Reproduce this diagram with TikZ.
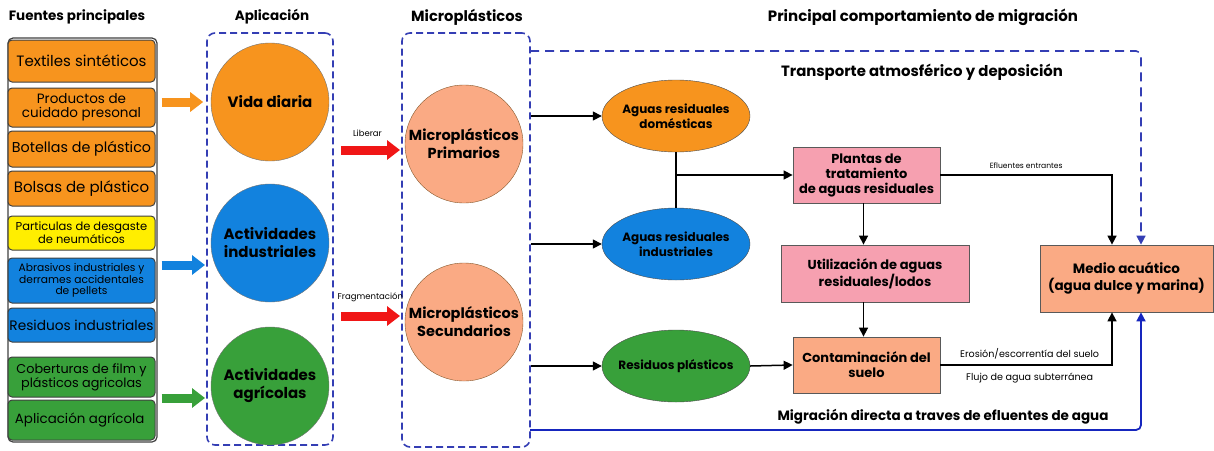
\documentclass[tikz,border=0pt]{standalone}
\usepackage{fontspec}
\setmainfont{Poppins}
\usetikzlibrary{arrows.meta,shapes.geometric}
\definecolor{srcorange}{RGB}{247,148,30}
\definecolor{srcyellow}{RGB}{255,238,0}
\definecolor{srcblue}{RGB}{18,130,222}
\definecolor{srcgreen}{RGB}{56,160,58}
\definecolor{salmon}{RGB}{250,170,132}
\definecolor{pinkbox}{RGB}{246,160,176}
\definecolor{dashblue}{RGB}{52,62,180}
\definecolor{lineblue}{RGB}{22,38,190}
\definecolor{redarrow}{RGB}{240,22,22}
\tikzset{
  srcbox/.style={draw=black!75, line width=1pt, rounded corners=4pt, minimum width=147pt, align=center, inner sep=1pt},
  appcircle/.style={circle, draw=black!55, minimum size=118pt, inner sep=0pt, align=center, font=\fontsize{15}{18}\selectfont\bfseries},
  micircle/.style={circle, draw=brown!70!black, fill=salmon, minimum size=118pt, inner sep=0pt, align=center, font=\fontsize{14.5}{18}\selectfont\bfseries},
  groupbox/.style={draw=dashblue, line width=1.6pt, dash pattern=on 7pt off 4pt, rounded corners=8pt},
  waterell/.style={ellipse, draw=black!70, minimum width=148pt, minimum height=72pt, inner xsep=-10pt, inner ysep=0pt, align=center, font=\fontsize{12}{15}\selectfont\bfseries},
  fatebox/.style={draw=black!65, line width=0.8pt, align=center, inner sep=2pt, font=\fontsize{13}{15}\selectfont\bfseries},
  coltitle/.style={font=\fontsize{13.5}{16}\selectfont\bfseries},
  flow/.style={->, line width=1.5pt},
  blockarrow/.style={line width=9pt, -{Triangle[width=19pt,length=13pt]}},
  smalllabel/.style={font=\fontsize{8.5}{10}\selectfont},
}
\begin{document}
\begin{tikzpicture}[x=1pt, y=-1pt, >={Triangle[width=9pt,length=9pt]}]
\useasboundingbox (0,0) rectangle (1214,450);
% column titles
\node[coltitle] (t1) at (77,17) {Fuentes principales};
\node[coltitle] (t2) at (272,17) {Aplicación};
\node[coltitle, font=\fontsize{14.7}{17}\selectfont\bfseries] (t3) at (467,17) {Microplásticos};
\node[coltitle, font=\fontsize{15}{17}\selectfont\bfseries] (t4) at (923,17) {Principal comportamiento de migración};
% main sources
\node[draw=black!75, line width=1.2pt, rounded corners=5pt, minimum width=149pt, minimum height=404pt] (fuentes) at (82.5,240) {};
\foreach \n/\y/\h/\c/\s/\t in {
    textil/61/42/srcorange/15/{Textiles sintéticos},
    cuidado/107.5/39/srcorange/13.5/{Productos de\\cuidado presonal},
    botellas/149/36/srcorange/14.3/{Botellas de plástico},
    bolsas/188.5/35/srcorange/15/{Bolsas de plástico},
    neumat/233/34/srcyellow/11.5/{Particulas de desgaste\\de neumáticos},
    abras/280.5/45/srcblue/10.7/{Abrasivos industriales y\\derrames accidentales\\de pellets},
    resind/325/34/srcblue/13.7/{Residuos industriales},
    cobert/377/40/srcgreen/12.8/{Coberturas de film y\\plásticos agricolas},
    aplag/420/40/srcgreen/13.4/{Aplicación agrícola}
  } {
    \node[srcbox, fill=\c, minimum height=\h pt, font=\fontsize{\s}{\s}\selectfont] (\n) at (81.5,\y) {\t};
  }
% application
\node[groupbox, minimum width=126pt, minimum height=412pt] (apbox) at (270,239) {};
\node[appcircle, fill=srcorange] (vida) at (270,102) {Vida diaria};
\node[appcircle, fill=srcblue] (indus) at (270,243) {Actividades\\industriales};
\node[appcircle, fill=srcgreen] (agric) at (270,386) {Actividades\\agrícolas};
\coordinate (bluein) at (205,265);
\coordinate (greenin) at (205,398);
\draw[blockarrow, srcorange] ([xshift=4pt]fuentes.east |- vida) -- ([xshift=-3pt]apbox.west |- vida);
\draw[blockarrow, srcblue] ([xshift=4pt]fuentes.east |- bluein) -- (bluein);
\draw[blockarrow, srcgreen] ([xshift=4pt]fuentes.east |- greenin) -- (greenin);
% microplastics
\node[groupbox, minimum width=128pt, minimum height=414pt] (micbox) at (466,240) {};
\node[micircle] (prim) at (464,144) {Microplásticos\\Primarios};
\node[micircle] (secu) at (464,322) {Microplásticos\\Secundarios};
\coordinate (libin) at (400,150);
\coordinate (fragin) at (400,316);
\draw[blockarrow, redarrow] ([xshift=7pt]apbox.east |- libin) -- (libin) node[pos=0.45, above=6pt, smalllabel, text=black] (liberar) {Liberar};
\draw[blockarrow, redarrow] ([xshift=7pt]apbox.east |- fragin) -- (fragin) node[pos=0.5, above=6pt, smalllabel, text=black] (frag) {Fragmentación};
% pathways
\node[waterell, fill=srcorange] (dom) at (676,116) {Aguas residuales\\domésticas};
\node[waterell, fill=srcblue] (ind) at (676,244) {Aguas residuales\\industriales};
\node[waterell, fill=srcgreen] (resp) at (676,366) {Residuos plásticos};
\node[fatebox, fill=pinkbox, minimum width=147pt, minimum height=56pt] (plantas) at (866.5,175) {Plantas de\\tratamiento\\de aguas residuales};
\node[fatebox, fill=pinkbox, minimum width=188pt, minimum height=57pt] (util) at (875,273.5) {Utilización de aguas\\residuales/lodos};
\node[fatebox, fill=salmon, minimum width=147pt, minimum height=56pt] (contam) at (866.5,365) {Contaminación del\\suelo};
\node[fatebox, fill=salmon, minimum width=173pt, minimum height=67pt, font=\fontsize{13.5}{17}\selectfont\bfseries] (medio) at (1126.5,278.5) {Medio acuático\\(agua dulce y marina)};
\draw[flow] (micbox.east |- dom) -- (dom.west);
\draw[flow] (micbox.east |- ind) -- (ind.west);
\draw[flow] (micbox.east |- resp) -- (resp.west);
\draw[line width=1.5pt] (dom.south) -- (ind.north);
\draw[flow] (dom.south |- plantas.west) -- (plantas.west);
\draw[flow] (resp.east) -- (contam.west);
\draw[flow] ([xshift=-3pt]plantas.south) -- ([xshift=-3pt]plantas.south |- util.north);
\draw[flow] ([xshift=-3pt]contam.north |- util.south) -- ([xshift=-3pt]contam.north);
\draw[flow] (plantas.east) -| ([xshift=-14.5pt]medio.north) node[pos=0.25, above=2pt, smalllabel, font=\fontsize{7.6}{9}\selectfont] (eflu) {Efluentes entrantes};
\draw[flow] (contam.east) -| ([xshift=-14.5pt]medio.south)
  node[pos=0.26, above=2pt, smalllabel, font=\fontsize{9.6}{11}\selectfont] (erosion) {Erosión/escorrentía del suelo}
  node[pos=0.26, below=4pt, smalllabel, font=\fontsize{9.6}{11}\selectfont] (flujo) {Flujo de agua subterránea};
% atmospheric and direct
\coordinate (atmo) at (530,51);
\coordinate (direct) at (530,430);
\draw[->, dashblue, line width=1.6pt, dash pattern=on 9pt off 6pt, rounded corners=5pt] (atmo) -| ([xshift=14.5pt]medio.north);
\draw[->, lineblue, line width=1.8pt, rounded corners=5pt] (direct) -| ([xshift=14.5pt]medio.south);
\node[coltitle, font=\fontsize{14.9}{17}\selectfont\bfseries] (atmolab) at (922,72) {Transporte atmosférico y deposición};
\node[coltitle] (directlab) at (943,417) {Migración directa a traves de efluentes de agua};
\end{tikzpicture}
\end{document}
